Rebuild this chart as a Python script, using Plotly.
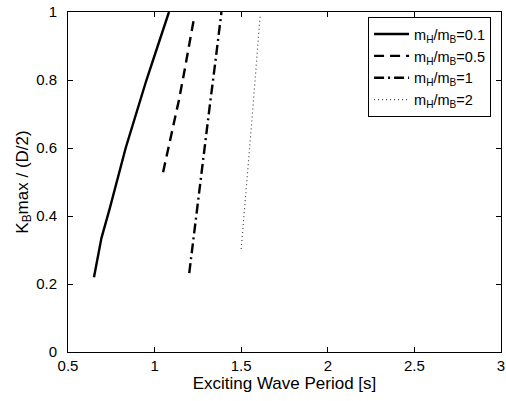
import plotly.graph_objects as go

x_01 = [0.65, 0.693, 0.74, 0.833, 0.893, 0.953, 1.018, 1.083]
y_01 = [0.22, 0.335, 0.42, 0.60, 0.70, 0.80, 0.90, 1.00]
x_05 = [1.049, 1.08, 1.11, 1.14, 1.17, 1.20, 1.227]
y_05 = [0.529, 0.60, 0.67, 0.74, 0.82, 0.90, 0.98]
x_1 = [1.20, 1.23, 1.26, 1.29, 1.32, 1.35, 1.386]
y_1 = [0.232, 0.36, 0.49, 0.61, 0.73, 0.85, 1.00]
x_2 = [1.50, 1.52, 1.54, 1.56, 1.58, 1.60, 1.61]
y_2 = [0.303, 0.42, 0.54, 0.67, 0.80, 0.93, 0.995]

names = ["m<sub>H</sub>/m<sub>B</sub>=0.1", "m<sub>H</sub>/m<sub>B</sub>=0.5",
         "m<sub>H</sub>/m<sub>B</sub>=1", "m<sub>H</sub>/m<sub>B</sub>=2"]

x_ticks = [0.5, 1, 1.5, 2, 2.5, 3]
x_tick_labels = ["0.5", "1", "1.5", "2", "2.5", "3"]
y_ticks = [0, 0.2, 0.4, 0.6, 0.8, 1]
y_tick_labels = ["0", "0.2", "0.4", "0.6", "0.8", "1"]

fig = go.Figure()
styles = [("solid", 2.4, "black"), ("10px,6px", 2.4, "black"),
          ("10px,4px,2px,4px", 2.4, "black"), ("1px,3px", 1.2, "#444")]
for (xs, ys), nm, (d, w, c) in zip([(x_01, y_01), (x_05, y_05), (x_1, y_1), (x_2, y_2)], names, styles):
    fig.add_trace(go.Scatter(x=xs, y=ys, mode="lines", name=nm,
                             line=dict(dash=d, width=w, color=c)))

axis_common = dict(showgrid=False, zeroline=False, showline=True, linecolor="black",
                   linewidth=1, mirror="ticks", ticks="inside", ticklen=5,
                   tickcolor="black", tickfont=dict(size=15, color="black"),
                   ticklabeloverflow="allow", automargin=False)
fig.update_xaxes(range=[0.5, 3], tickvals=x_ticks, ticktext=x_tick_labels,
                 ticklabelstandoff=0,
                 title=dict(text="Exciting Wave Period [s]", font=dict(size=17, color="black"), standoff=3),
                 **axis_common)
fig.update_yaxes(range=[0, 1], tickvals=y_ticks, ticktext=y_tick_labels,
                 ticklabelstandoff=7,
                 title=dict(text="K<sub>B</sub>max / (D/2)", font=dict(size=17, color="black"), standoff=3),
                 **axis_common)
fig.update_layout(
    width=506, height=401,
    margin=dict(l=68, r=5, t=12, b=49),
    plot_bgcolor="white", paper_bgcolor="white",
    font=dict(family="Liberation Sans, Arial, sans-serif", color="black"),
    legend=dict(x=0.693, y=0.985, xanchor="left", yanchor="top",
                bordercolor="black", borderwidth=1, bgcolor="white",
                font=dict(size=14.5), tracegroupgap=0, itemwidth=35),
)
fig.write_html("out.html", config={"displayModeBar": False},
               post_script="document.body.style.margin='0px';document.body.style.overflow='hidden';")
